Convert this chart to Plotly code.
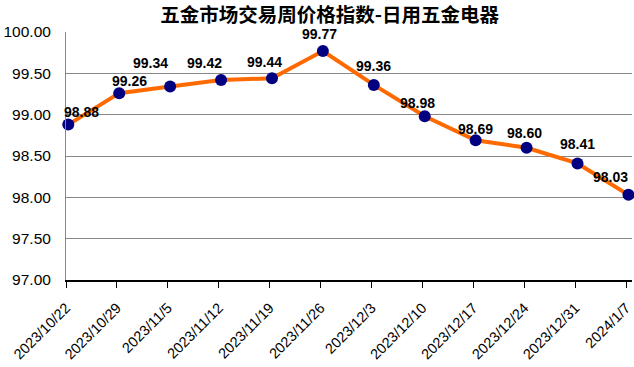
import plotly.graph_objects as go

dates = ["2023/10/22", "2023/10/29", "2023/11/5", "2023/11/12", "2023/11/19", "2023/11/26",
         "2023/12/3", "2023/12/10", "2023/12/17", "2023/12/24", "2023/12/31", "2024/1/7"]
values = [98.88, 99.26, 99.34, 99.42, 99.44, 99.77, 99.36, 98.98, 98.69, 98.60, 98.41, 98.03]
y_ticks = [97.0, 97.5, 98.0, 98.5, 99.0, 99.5, 100.0]
title_text = "五金市场交易周价格指数-日用五金电器"

# label offsets (pixels) relative to each point
label_dx = [13, 10, -20, -17, -7, -3, 0, -7, 0, -2, 0, -18]
label_dy = [13, 12, 24, 17, 16, 17, 19, 13, 11, 15, 19, 18]

idx = list(range(len(values)))

fig = go.Figure()
fig.add_trace(go.Scatter(
    x=idx, y=values, mode="lines+markers",
    line=dict(color="#FF6A00", width=4),
    marker=dict(color="#000080", size=12, line=dict(width=0)),
    hoverinfo="y", showlegend=False, cliponaxis=False,
))

for i, v in enumerate(values):
    fig.add_annotation(
        x=i, y=v, text=f"{v:.2f}", showarrow=False,
        xshift=label_dx[i], yshift=label_dy[i],
        font=dict(family="Liberation Sans, Arial, sans-serif", size=14, color="#000000", weight="bold"),
    )

fig.update_layout(
    width=634, height=367,
    margin=dict(l=66, r=2, t=32, b=87, autoexpand=False),
    paper_bgcolor="white", plot_bgcolor="white",
    title=dict(text=title_text, x=0.52, xanchor="center", y=1 - 15 / 367, yanchor="middle",
               yref="container",
               font=dict(family="Noto Sans CJK SC", size=19.5, color="#000000", weight="bold")),
    xaxis=dict(
        range=[-0.045, 11.07],
        tickmode="array",
        tickvals=[i - 0.045 for i in idx],
        ticktext=dates,
        tickangle=-45,
        ticks="outside", ticklen=6, tickcolor="#000000", tickwidth=1,
        ticklabelstandoff=6, ticklabeloverflow="allow",
        showline=True, linecolor="#000000", linewidth=1.5,
        showgrid=False, zeroline=False, automargin=False,
        tickfont=dict(family="Liberation Sans, Arial, sans-serif", size=14.5, color="#000000"),
    ),
    yaxis=dict(
        range=[97.0, 100.0],
        tickmode="array",
        tickvals=y_ticks,
        ticktext=[f"{t:.2f}" for t in y_ticks],
        showgrid=True, gridcolor="#888888", gridwidth=1,
        showline=True, linecolor="#888888", linewidth=1,
        zeroline=False, ticks="", ticklabelstandoff=11, automargin=False,
        tickfont=dict(family="Liberation Sans, Arial, sans-serif", size=15.5, color="#000000"),
    ),
)

fig.write_html("out.html", config={"displayModeBar": False},
               post_script="document.body.style.margin='0';document.body.style.overflow='hidden';")
